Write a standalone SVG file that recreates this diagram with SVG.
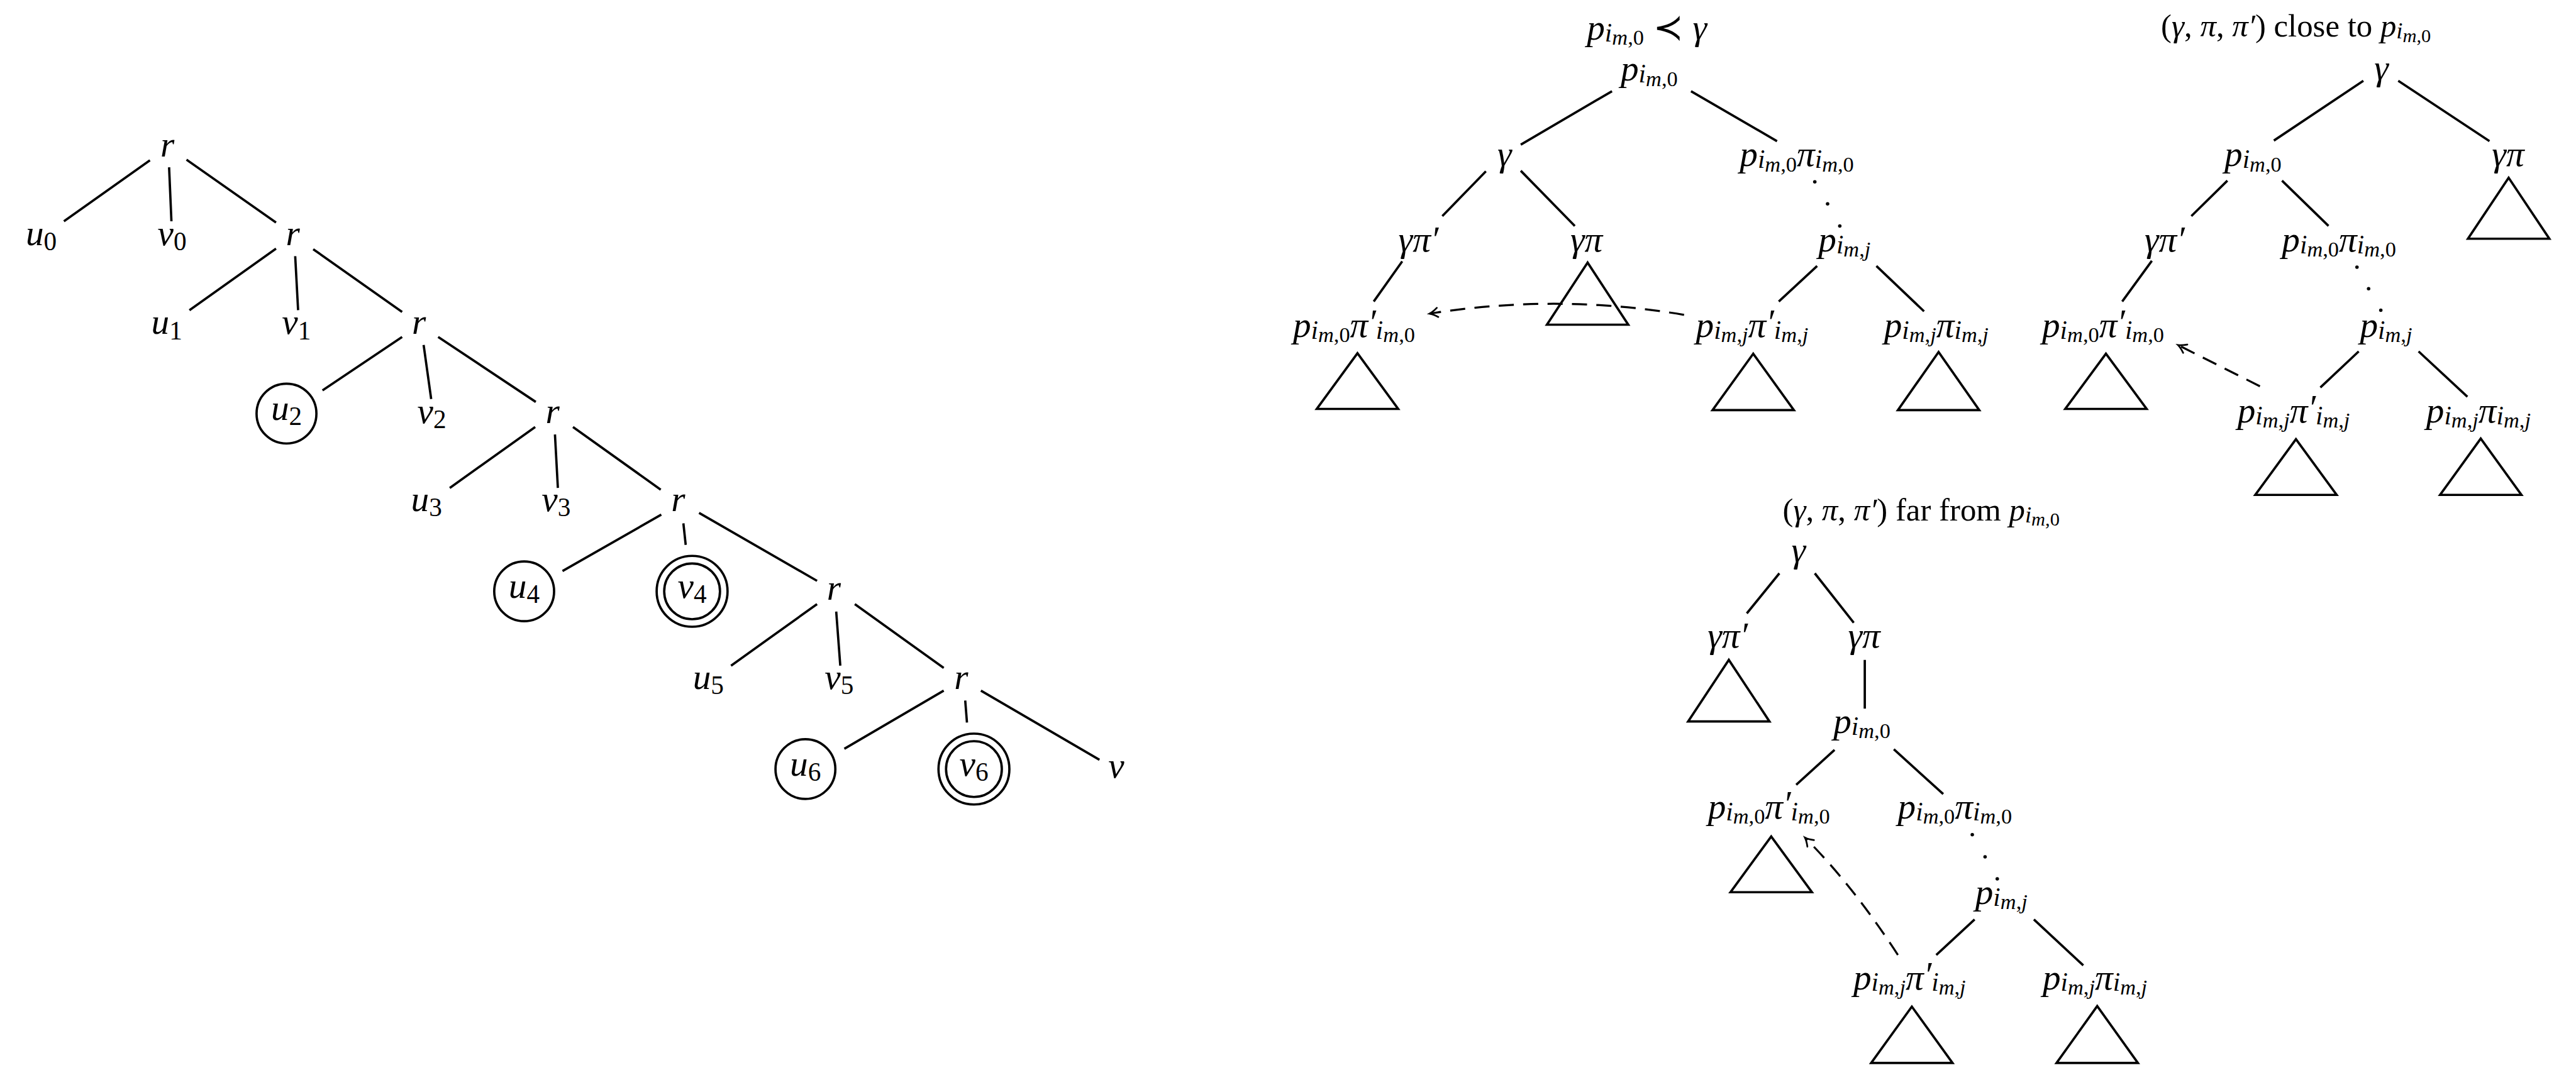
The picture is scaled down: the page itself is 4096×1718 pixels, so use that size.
<svg xmlns="http://www.w3.org/2000/svg" width="4096" height="1718" viewBox="0 0 4096 1718">
<style>
  .m{font-family:"Liberation Serif","DejaVu Serif",serif;font-style:italic;font-size:62px;fill:#000;text-anchor:middle}
  .t{font-size:55px}
  .s{font-size:0.72em}
  .ss{font-size:0.6em}
  .up{font-style:normal}
  .sym{font-family:"DejaVu Sans",sans-serif;font-style:normal}
  .e{stroke:#000;stroke-width:4;fill:none}
  .tri{stroke:#000;stroke-width:4;fill:none;stroke-linejoin:miter}
  .ring{stroke:#000;stroke-width:4;fill:none}
  .dash{stroke:#000;stroke-width:3.5;fill:none;stroke-dasharray:26 16}
  .dot{fill:#000}
</style>
<defs>
  <marker id="arr" markerUnits="userSpaceOnUse" viewBox="-16 -10 18 20" refX="0" refY="0" markerWidth="18" markerHeight="20" orient="auto" overflow="visible">
    <path d="M-14,-8 Q-6,-2 0,0 Q-6,2 -14,8" fill="none" stroke="#000" stroke-width="3" stroke-linecap="round"/>
  </marker>
</defs>
<rect width="4096" height="1718" fill="#fff"/>
<g transform="scale(0.924)">

<!-- edges, ellipses and back-pointers -->
<g id="connectors">
  <path class="e" d="M258,276L110,381M291,288L295,381M321,275L475,383"/>
  <path class="e" d="M475,428L326,534M508,441L513,534M539,429L692,537"/>
  <path class="e" d="M692,580L555,672M729,594L742,687M754,580L922,692"/>
  <path class="e" d="M921,735L774,840M955,748L960,840M986,735L1137,843"/>
  <path class="e" d="M1138,886L968,983M1176,901L1180,938M1203,883L1406,1000"/>
  <path class="e" d="M1406,1040L1258,1146M1439,1053L1446,1146M1471,1040L1624,1150"/>
  <path class="e" d="M1624,1189L1453,1289M1661,1206L1664,1244M1688,1189L1892,1308"/>

  <path class="e" d="M2774,157L2617,249M2910,157L3058,243M2557,295L2482,372M2617,294L2710,389M2413,450L2364,519M3127,458L3061,519M3229,458L3311,536"/>
  <circle class="dot" cx="3123" cy="313" r="3"/><circle class="dot" cx="3145" cy="351" r="3"/><circle class="dot" cx="3166" cy="389" r="3"/>
  <path class="dash" d="M2898,542Q2680,505 2460,540" marker-end="url(#arr)"/>

  <path class="e" d="M4067,139L3913,242M4127,139L4284,243M3833,311L3771,372M3927,311L4007,389M3703,449L3652,519M4059,605L3993,667M4162,605L4246,683"/>
  <circle class="dot" cx="4056" cy="460" r="3"/><circle class="dot" cx="4076" cy="497" r="3"/><circle class="dot" cx="4097" cy="534" r="3"/>
  <path class="dash" d="M3889,665L3748,594" marker-end="url(#arr)"/>

  <path class="e" d="M3062,987L3006,1056M3123,987L3190,1072M3209,1136L3209,1220M3157,1291L3091,1351M3259,1290L3344,1367M3398,1583L3332,1644M3500,1583L3585,1662"/>
  <circle class="dot" cx="3394" cy="1437" r="3"/><circle class="dot" cx="3416" cy="1475" r="3"/><circle class="dot" cx="3437" cy="1513" r="3"/>
  <path class="dash" d="M3266,1644Q3188,1524 3106,1442" marker-end="url(#arr)"/>
</g>

<!-- left tree: spine of r nodes -->
<g id="r0"><text class="m" x="288" y="270">r</text></g>
<g id="r1"><text class="m" x="504" y="422">r</text></g>
<g id="r2"><text class="m" x="721" y="575">r</text></g>
<g id="r3"><text class="m" x="951" y="728">r</text></g>
<g id="r4"><text class="m" x="1167" y="880">r</text></g>
<g id="r5"><text class="m" x="1435" y="1033">r</text></g>
<g id="r6"><text class="m" x="1654" y="1186">r</text></g>

<g id="u0"><text class="m" x="71" y="422">u<tspan class="s up" dy="9">0</tspan></text></g>
<g id="v0"><text class="m" x="296" y="422">v<tspan class="s up" dy="9">0</tspan></text></g>
<g id="u1"><text class="m" x="287" y="575">u<tspan class="s up" dy="9">1</tspan></text></g>
<g id="v1"><text class="m" x="510" y="575">v<tspan class="s up" dy="9">1</tspan></text></g>
<g id="u2"><circle class="ring" cx="493" cy="712" r="51.5"/><text class="m" x="493" y="723">u<tspan class="s up" dy="9">2</tspan></text></g>
<g id="v2"><text class="m" x="743" y="728">v<tspan class="s up" dy="9">2</tspan></text></g>
<g id="u3"><text class="m" x="734" y="880">u<tspan class="s up" dy="9">3</tspan></text></g>
<g id="v3"><text class="m" x="957" y="880">v<tspan class="s up" dy="9">3</tspan></text></g>
<g id="u4"><circle class="ring" cx="902" cy="1018" r="51.5"/><text class="m" x="902" y="1029">u<tspan class="s up" dy="9">4</tspan></text></g>
<g id="v4"><circle class="ring" cx="1191" cy="1018" r="61"/><circle class="ring" cx="1191" cy="1018" r="48"/><text class="m" x="1191" y="1029">v<tspan class="s up" dy="9">4</tspan></text></g>
<g id="u5"><text class="m" x="1219" y="1186">u<tspan class="s up" dy="9">5</tspan></text></g>
<g id="v5"><text class="m" x="1444" y="1186">v<tspan class="s up" dy="9">5</tspan></text></g>
<g id="u6"><circle class="ring" cx="1386" cy="1324" r="51.5"/><text class="m" x="1386" y="1335">u<tspan class="s up" dy="9">6</tspan></text></g>
<g id="v6"><circle class="ring" cx="1676" cy="1324" r="61"/><circle class="ring" cx="1676" cy="1324" r="48"/><text class="m" x="1676" y="1335">v<tspan class="s up" dy="9">6</tspan></text></g>
<g id="v"><text class="m" x="1921" y="1339">v</text></g>

<!-- case 1: p below gamma -->
<g id="t1-title"><text class="m" x="2834" y="68">p<tspan class="s" dy="3">i</tspan><tspan class="ss" dy="6">m<tspan class="up">,0</tspan></tspan><tspan class="sym" dx="16" dy="-9">≺</tspan><tspan dx="16">γ</tspan></text></g>
<g id="t1-p0"><text class="m" x="2838" y="139">p<tspan class="s" dy="3">i</tspan><tspan class="ss" dy="6">m<tspan class="up">,0</tspan></tspan></text></g>
<g id="t1-gamma"><text class="m" x="2589" y="286">γ</text></g>
<g id="t1-p0pi"><text class="m" x="3092" y="286">p<tspan class="s" dy="3">i</tspan><tspan class="ss" dy="6">m<tspan class="up">,0</tspan></tspan><tspan dy="-9">π</tspan><tspan class="s" dy="3">i</tspan><tspan class="ss" dy="6">m<tspan class="up">,0</tspan></tspan></text></g>
<g id="t1-gpi1"><text class="m" x="2441" y="433">γπ′</text></g>
<g id="t1-gpi"><text class="m" x="2730" y="433">γπ</text><polygon class="tri" points="2732,452 2662,559 2802,559"/></g>
<g id="t1-pj"><text class="m" x="3174" y="433">p<tspan class="s" dy="3">i</tspan><tspan class="ss" dy="6">m<tspan class="up">,</tspan>j</tspan></text></g>
<g id="t1-p0pi1"><text class="m" x="2330" y="580">p<tspan class="s" dy="3">i</tspan><tspan class="ss" dy="6">m<tspan class="up">,0</tspan></tspan><tspan dy="-9">π</tspan><tspan dy="-4">′</tspan><tspan class="s" dy="7">i</tspan><tspan class="ss" dy="6">m<tspan class="up">,0</tspan></tspan></text><polygon class="tri" points="2336,608 2266,704 2406,704"/></g>
<g id="t1-pjpi1"><text class="m" x="3015" y="580">p<tspan class="s" dy="3">i</tspan><tspan class="ss" dy="6">m<tspan class="up">,</tspan>j</tspan><tspan dy="-9">π</tspan><tspan dy="-4">′</tspan><tspan class="s" dy="7">i</tspan><tspan class="ss" dy="6">m<tspan class="up">,</tspan>j</tspan></text><polygon class="tri" points="3017,609 2947,706 3087,706"/></g>
<g id="t1-pjpi"><text class="m" x="3332" y="580">p<tspan class="s" dy="3">i</tspan><tspan class="ss" dy="6">m<tspan class="up">,</tspan>j</tspan><tspan dy="-9">π</tspan><tspan class="s" dy="3">i</tspan><tspan class="ss" dy="6">m<tspan class="up">,</tspan>j</tspan></text><polygon class="tri" points="3336,606 3266,706 3406,706"/></g>

<!-- case 2: triple close to p -->
<g id="t2-title"><text class="m t" x="3951" y="63"><tspan class="up">(</tspan>γ<tspan class="up">, </tspan>π<tspan class="up">, </tspan>π′<tspan class="up">) close to </tspan>p<tspan class="s" dy="3">i</tspan><tspan class="ss" dy="6">m<tspan class="up">,0</tspan></tspan></text></g>
<g id="t2-gamma"><text class="m" x="4098" y="137">γ</text></g>
<g id="t2-p0"><text class="m" x="3877" y="286">p<tspan class="s" dy="3">i</tspan><tspan class="ss" dy="6">m<tspan class="up">,0</tspan></tspan></text></g>
<g id="t2-gpi"><text class="m" x="4316" y="286">γπ</text><polygon class="tri" points="4317,306 4247,411 4387,411"/></g>
<g id="t2-gpi1"><text class="m" x="3725" y="433">γπ′</text></g>
<g id="t2-p0pi"><text class="m" x="4025" y="433">p<tspan class="s" dy="3">i</tspan><tspan class="ss" dy="6">m<tspan class="up">,0</tspan></tspan><tspan dy="-9">π</tspan><tspan class="s" dy="3">i</tspan><tspan class="ss" dy="6">m<tspan class="up">,0</tspan></tspan></text></g>
<g id="t2-p0pi1"><text class="m" x="3619" y="580">p<tspan class="s" dy="3">i</tspan><tspan class="ss" dy="6">m<tspan class="up">,0</tspan></tspan><tspan dy="-9">π</tspan><tspan dy="-4">′</tspan><tspan class="s" dy="7">i</tspan><tspan class="ss" dy="6">m<tspan class="up">,0</tspan></tspan></text><polygon class="tri" points="3624,609 3554,704 3694,704"/></g>
<g id="t2-pj"><text class="m" x="4106" y="580">p<tspan class="s" dy="3">i</tspan><tspan class="ss" dy="6">m<tspan class="up">,</tspan>j</tspan></text></g>
<g id="t2-pjpi1"><text class="m" x="3947" y="727">p<tspan class="s" dy="3">i</tspan><tspan class="ss" dy="6">m<tspan class="up">,</tspan>j</tspan><tspan dy="-9">π</tspan><tspan dy="-4">′</tspan><tspan class="s" dy="7">i</tspan><tspan class="ss" dy="6">m<tspan class="up">,</tspan>j</tspan></text><polygon class="tri" points="3951,756 3881,852 4021,852"/></g>
<g id="t2-pjpi"><text class="m" x="4265" y="727">p<tspan class="s" dy="3">i</tspan><tspan class="ss" dy="6">m<tspan class="up">,</tspan>j</tspan><tspan dy="-9">π</tspan><tspan class="s" dy="3">i</tspan><tspan class="ss" dy="6">m<tspan class="up">,</tspan>j</tspan></text><polygon class="tri" points="4269,755 4199,852 4339,852"/></g>

<!-- case 3: triple far from p -->
<g id="t3-title"><text class="m t" x="3306" y="896"><tspan class="up">(</tspan>γ<tspan class="up">, </tspan>π<tspan class="up">, </tspan>π′<tspan class="up">) far from </tspan>p<tspan class="s" dy="3">i</tspan><tspan class="ss" dy="6">m<tspan class="up">,0</tspan></tspan></text></g>
<g id="t3-gamma"><text class="m" x="3095" y="968">γ</text></g>
<g id="t3-gpi1"><text class="m" x="2973" y="1115">γπ′</text><polygon class="tri" points="2975,1136 2905,1242 3045,1242"/></g>
<g id="t3-gpi"><text class="m" x="3208" y="1115">γπ</text></g>
<g id="t3-p0"><text class="m" x="3204" y="1262">p<tspan class="s" dy="3">i</tspan><tspan class="ss" dy="6">m<tspan class="up">,0</tspan></tspan></text></g>
<g id="t3-p0pi1"><text class="m" x="3044" y="1409">p<tspan class="s" dy="3">i</tspan><tspan class="ss" dy="6">m<tspan class="up">,0</tspan></tspan><tspan dy="-9">π</tspan><tspan dy="-4">′</tspan><tspan class="s" dy="7">i</tspan><tspan class="ss" dy="6">m<tspan class="up">,0</tspan></tspan></text><polygon class="tri" points="3048,1440 2978,1536 3118,1536"/></g>
<g id="t3-p0pi"><text class="m" x="3364" y="1409">p<tspan class="s" dy="3">i</tspan><tspan class="ss" dy="6">m<tspan class="up">,0</tspan></tspan><tspan dy="-9">π</tspan><tspan class="s" dy="3">i</tspan><tspan class="ss" dy="6">m<tspan class="up">,0</tspan></tspan></text></g>
<g id="t3-pj"><text class="m" x="3444" y="1556">p<tspan class="s" dy="3">i</tspan><tspan class="ss" dy="6">m<tspan class="up">,</tspan>j</tspan></text></g>
<g id="t3-pjpi1"><text class="m" x="3286" y="1703">p<tspan class="s" dy="3">i</tspan><tspan class="ss" dy="6">m<tspan class="up">,</tspan>j</tspan><tspan dy="-9">π</tspan><tspan dy="-4">′</tspan><tspan class="s" dy="7">i</tspan><tspan class="ss" dy="6">m<tspan class="up">,</tspan>j</tspan></text><polygon class="tri" points="3290,1733 3220,1830 3360,1830"/></g>
<g id="t3-pjpi"><text class="m" x="3605" y="1703">p<tspan class="s" dy="3">i</tspan><tspan class="ss" dy="6">m<tspan class="up">,</tspan>j</tspan><tspan dy="-9">π</tspan><tspan class="s" dy="3">i</tspan><tspan class="ss" dy="6">m<tspan class="up">,</tspan>j</tspan></text><polygon class="tri" points="3609,1732 3539,1830 3679,1830"/></g>

</g>
</svg>
